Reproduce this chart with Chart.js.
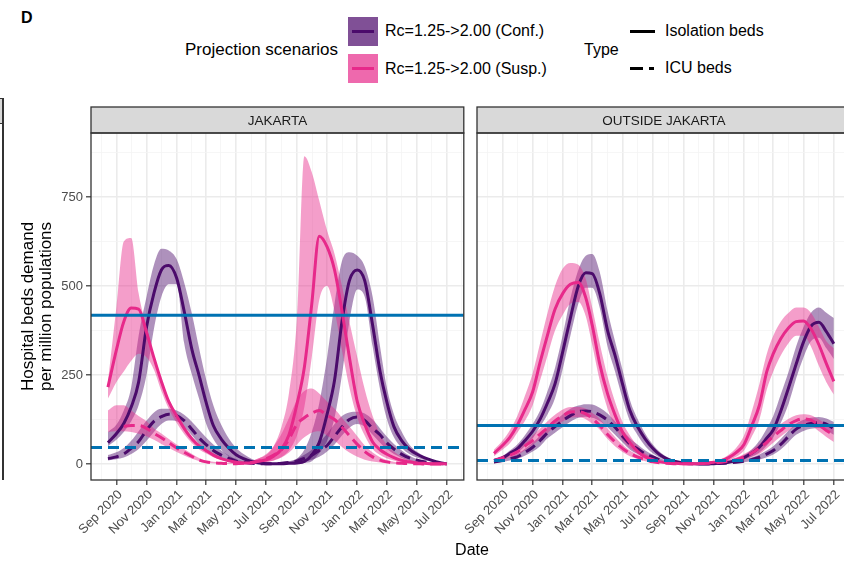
<!DOCTYPE html>
<html>
<head>
<meta charset="utf-8">
<script src="https://cdn.jsdelivr.net/npm/chart.js@4.4.1/dist/chart.umd.min.js"></script>
<style>
  html, body { margin: 0; padding: 0; background: #fff; overflow: hidden; }
  #fig { position: relative; width: 844px; height: 561px; overflow: hidden; font-family: "Liberation Sans", Arial, sans-serif; color: #000; }
  .abs { position: absolute; white-space: nowrap; line-height: 18px; }
  canvas { position: absolute; }
</style>
</head>
<body>
<div id="fig">
  <div class="abs" style="left:21px;top:9px;font-size:16px;font-weight:bold;">D</div>

  <!-- legend: scenarios -->
  <div class="abs" style="left:185px;top:41px;font-size:17px;">Projection scenarios</div>
  <div class="abs" style="left:348px;top:17px;width:30px;height:29px;background:rgb(128,80,150);">
    <div style="position:absolute;left:4px;right:4px;top:13px;height:3px;background:#4b0b6b;"></div>
  </div>
  <div class="abs" style="left:348px;top:54px;width:30px;height:29px;background:rgb(238,105,173);">
    <div style="position:absolute;left:4px;right:4px;top:13px;height:3px;background:#e7298a;"></div>
  </div>
  <div class="abs" style="left:385px;top:22px;font-size:16px;">Rc=1.25-&gt;2.00 (Conf.)</div>
  <div class="abs" style="left:385px;top:60px;font-size:16px;">Rc=1.25-&gt;2.00 (Susp.)</div>

  <!-- legend: bed type -->
  <div class="abs" style="left:584px;top:41px;font-size:16px;">Type</div>
  <div class="abs" style="left:630px;top:30px;width:25px;height:3px;background:#000;"></div>
  <div class="abs" style="left:630px;top:67px;width:13px;height:3px;background:#000;"></div>
  <div class="abs" style="left:649px;top:67px;width:5px;height:3px;background:#000;"></div>
  <div class="abs" style="left:665px;top:22px;font-size:16px;">Isolation beds</div>
  <div class="abs" style="left:665px;top:59px;font-size:16px;">ICU beds</div>

  <!-- edge of the neighbouring panel -->
  <div class="abs" style="left:0;top:98px;width:2px;height:24px;background:#d9d9d9;border-top:1px solid #333;border-bottom:1px solid #333;"></div>
  <div class="abs" style="left:2px;top:98px;width:2px;height:382px;background:#333;"></div>

  <canvas id="jkt" width="475" height="461" style="left:0;top:100px;"></canvas>
  <canvas id="out" width="442" height="461" style="left:420px;top:100px;"></canvas>

  <div class="abs" style="left:472px;top:541px;font-size:16px;transform:translateX(-50%);">Date</div>
</div>

<script>
// semi-monthly grid shared by every series
const dates = ['2020-08-15','2020-09-01','2020-09-16','2020-10-01','2020-10-16','2020-11-01','2020-11-16','2020-12-01','2020-12-16',
  '2021-01-01','2021-01-16','2021-02-01','2021-02-16','2021-03-01','2021-03-16','2021-04-01','2021-04-16','2021-05-01','2021-05-16',
  '2021-06-01','2021-06-16','2021-07-01','2021-07-16','2021-08-01','2021-08-16','2021-09-01','2021-09-16','2021-10-01','2021-10-16',
  '2021-11-01','2021-11-16','2021-12-01','2021-12-16','2022-01-01','2022-01-16','2022-02-01','2022-02-16','2022-03-01','2022-03-16',
  '2022-04-01','2022-04-16','2022-05-01','2022-05-16','2022-06-01','2022-06-16','2022-07-01'];

const tickDates = ['2020-09-01','2020-11-01','2021-01-01','2021-03-01','2021-05-01','2021-07-01',
  '2021-09-01','2021-11-01','2022-01-01','2022-03-01','2022-05-01','2022-07-01'];
const tickLabels = ['Sep 2020','Nov 2020','Jan 2021','Mar 2021','May 2021','Jul 2021',
  'Sep 2021','Nov 2021','Jan 2022','Mar 2022','May 2022','Jul 2022'];
const yTicks = [0, 250, 500, 750];

// JAKARTA
const jktConfIso   = [60,85,114,160,230,385,480,545,558,522,430,320,245,175,108,70,45,26,15,7,3,1,1,1,2,3,7,25,60,140,235,400,515,545,515,390,260,178,105,65,42,28,18,10,4,0];
const jktConfIsoHi = [90,110,150,215,360,470,560,605,600,575,510,420,320,240,165,110,72,45,28,15,8,4,2,3,5,15,40,90,170,300,450,570,595,585,555,470,330,220,140,90,55,35,22,12,6,2];
const jktConfIsoLo = [50,68,90,120,165,250,380,470,505,505,340,250,180,115,70,40,22,12,6,3,1,0,0,0,1,1,3,8,30,65,130,250,400,490,470,330,210,130,75,45,28,18,11,6,2,0];
const jktConfIcu   = [15,20,28,44,63,95,120,133,140,136,122,97,72,55,38,25,16,8,4,2,1,1,1,2,4,8,16,25,38,52,78,104,125,132,122,100,82,60,42,27,17,11,6,3,1,0];
const jktConfIcuHi = [25,33,45,65,92,122,145,155,155,150,138,118,95,75,55,38,24,14,7,4,2,1,2,4,8,15,26,40,60,85,112,135,145,147,142,125,100,78,56,38,24,14,8,4,2,1];
const jktConfIcuLo = [10,13,18,28,42,65,90,112,122,120,104,80,55,40,26,15,8,4,2,1,0,0,0,1,1,3,7,12,20,35,55,80,102,112,105,82,60,43,28,17,9,5,3,1,0,0];
const jktSuspIso   = [216,320,400,438,435,370,298,232,175,135,100,70,50,38,25,15,9,5,3,3,8,12,22,42,82,168,272,450,640,610,545,430,300,175,112,62,40,28,18,10,6,3,2,1,1,0];
const jktSuspIsoHi = [232,440,625,635,480,385,305,240,182,142,106,76,55,42,28,18,11,7,5,8,16,25,50,105,200,410,865,820,740,655,590,500,400,300,210,135,85,55,35,20,12,7,4,2,2,1];
const jktSuspIsoLo = [184,230,260,290,310,300,265,205,155,115,84,58,40,30,19,11,6,3,2,1,3,5,10,20,38,80,160,300,460,500,430,320,215,130,80,42,25,16,10,5,3,1,1,0,0,0];
const jktSuspIcu   = [null,null,106,108,108,100,86,74,60,45,33,21,11,6,3,2,1,1,2,4,8,15,25,40,70,112,130,143,150,137,125,103,80,55,35,20,11,6,3,2,1,1,0,0,0,0];
const jktSuspIcuHi = [150,165,165,150,135,120,100,86,70,55,42,28,16,10,6,3,2,2,4,8,16,28,50,85,130,180,205,212,198,175,155,130,105,78,52,32,19,11,6,3,2,1,1,0,0,0];
const jktSuspIcuLo = [90,92,92,90,85,78,68,56,45,34,24,15,8,4,2,1,0,0,1,2,3,6,10,18,32,55,75,88,92,80,65,48,32,20,12,7,4,2,1,0,0,0,0,0,0,0];

// OUTSIDE JAKARTA
const outConfIso   = [10,17,30,43,65,92,126,172,225,318,410,500,537,535,480,375,305,225,150,103,70,44,25,13,7,3,1,0,0,1,2,5,10,18,30,47,73,96,148,215,280,343,387,398,372,338];
const outConfIsoHi = [14,22,38,55,80,112,150,205,270,365,465,545,585,590,540,430,345,265,180,125,85,55,33,18,10,5,2,1,1,2,3,7,14,25,40,65,100,135,195,260,330,385,425,440,425,410];
const outConfIsoLo = [6,12,22,32,50,72,105,140,185,270,360,450,495,495,440,330,260,185,120,80,50,30,17,9,4,2,0,0,0,0,1,3,6,11,20,32,52,75,115,170,240,300,345,355,325,295];
const outConfIcu   = [5,10,15,20,32,47,66,88,105,122,136,147,149,147,138,123,103,78,56,42,28,20,11,6,3,2,1,1,1,1,2,3,5,8,12,19,28,38,55,78,98,108,114,117,112,99];
const outConfIcuHi = [8,14,20,28,42,60,80,104,122,140,155,164,168,167,158,142,120,96,72,54,38,26,16,9,5,3,2,2,2,2,3,5,8,12,18,27,38,50,70,94,113,124,130,132,128,118];
const outConfIcuLo = [3,6,10,14,23,35,50,72,88,104,119,130,133,130,121,103,82,61,40,28,19,11,6,3,1,1,0,0,0,0,1,2,3,5,8,12,19,27,41,62,82,93,99,101,95,82];
const outSuspIso   = [30,52,75,109,152,203,286,363,435,480,505,510,467,390,282,197,138,90,60,35,20,12,6,3,2,1,1,1,3,5,9,18,32,55,105,165,260,310,352,383,400,402,380,335,282,232];
const outSuspIsoHi = [40,65,95,135,190,255,340,425,500,550,565,560,520,440,340,245,175,118,80,50,30,18,10,5,3,2,2,2,5,8,14,26,45,80,145,225,310,360,400,425,440,440,425,385,345,325];
const outSuspIsoLo = [22,40,58,88,120,165,235,305,375,420,450,455,415,335,235,155,105,68,45,27,15,8,4,2,1,0,0,0,1,3,5,10,20,38,75,125,210,260,305,340,360,360,330,275,230,195];
const outSuspIcu   = [10,17,25,34,50,66,84,102,121,136,146,147,141,128,108,83,62,44,30,19,12,6,3,2,1,1,1,1,2,3,5,8,12,20,30,45,61,77,94,111,122,127,123,110,94,82];
const outSuspIcuHi = [15,23,32,42,58,80,100,120,138,153,160,160,155,143,127,100,76,55,38,26,16,9,5,3,2,1,1,2,3,5,8,12,18,28,40,56,78,96,112,127,137,140,137,125,112,103];
const outSuspIcuLo = [6,11,18,25,38,53,70,87,105,120,130,131,126,113,97,70,50,34,22,14,8,4,2,1,0,0,0,0,1,2,3,5,7,13,19,28,44,60,77,94,106,112,108,92,76,62];

// bed capacity per region: [Jakarta, outside Jakarta]
const isoCapacity = [418, 108];
const icuCapacity = [46, 10];

const purple = '#4b0b6b', pink = '#e7298a', blue = '#0072b2';
const purpleFill = 'rgba(75,11,107,0.45)', pinkFill = 'rgba(231,41,138,0.45)';
const FONT = '"Liberation Sans", Arial, sans-serif';

const t0 = Date.parse('2020-09-01');
const dayOf = s => (Date.parse(s) - t0) / 86400000;
const xs = dates.map(dayOf);
const span = xs[xs.length - 1] - xs[0];
const xMin = xs[0] - 0.05 * span, xMax = xs[xs.length - 1] + 0.05 * span;
const yMin = -45, yMax = 930;

// major ticks at the labelled months, minor ones half way between
const majorX = tickDates.map(dayOf);
const xTicks = [];
const firstMinor = majorX[0] - (majorX[1] - majorX[0]) / 2;
if (firstMinor >= xMin) xTicks.push({value: firstMinor, minor: true});
majorX.forEach((v, i) => {
  xTicks.push({value: v, minor: false, label: tickLabels[i]});
  const next = i < majorX.length - 1 ? (v + majorX[i + 1]) / 2 : v + (v - majorX[i - 1]) / 2;
  if (next <= xMax) xTicks.push({value: next, minor: true});
});
const yTickObjs = [];
yTicks.forEach((v, i) => {
  yTickObjs.push({value: v, minor: false});
  const step = i < yTicks.length - 1 ? yTicks[i + 1] - v : v - yTicks[i - 1];
  if (v + step / 2 <= yMax) yTickObjs.push({value: v + step / 2, minor: true});
});

function pts(vals) { return vals.map((v, i) => ({x: xs[i], y: v})); }

function curve(vals, color, dashed, order) {
  return {data: pts(vals), borderColor: color, borderWidth: 3, borderDash: dashed ? [11, 6] : [],
    pointRadius: 0, fill: false, cubicInterpolationMode: 'monotone', order: order};
}

function ribbon(hi, lo, color, order) {
  return [
    {data: pts(hi), borderColor: 'rgba(0,0,0,0)', borderWidth: 0, pointRadius: 0, backgroundColor: color,
      fill: '+1', cubicInterpolationMode: 'monotone', order: order},
    {data: pts(lo), borderColor: 'rgba(0,0,0,0)', borderWidth: 0, pointRadius: 0,
      fill: false, cubicInterpolationMode: 'monotone', order: order}
  ];
}

function capLine(v, dashed) {
  return {data: [{x: xMin, y: v}, {x: xMax, y: v}], borderColor: blue, borderWidth: 3,
    borderDash: dashed ? [11, 6] : [], pointRadius: 0, fill: false, order: 0};
}

// grey strip with the facet name and the panel border
const facetFrame = {
  id: 'facetFrame',
  afterDraw(chart, args, opts) {
    const {ctx, chartArea: a} = chart;
    ctx.save();
    ctx.fillStyle = '#d9d9d9';
    ctx.fillRect(a.left, a.top - 26, a.right - a.left, 26);
    ctx.strokeStyle = '#333';
    ctx.lineWidth = 1.3;
    ctx.strokeRect(a.left, a.top - 26, a.right - a.left, 26);
    ctx.strokeRect(a.left, a.top, a.right - a.left, a.bottom - a.top);
    ctx.fillStyle = '#1a1a1a';
    ctx.font = '13.5px ' + FONT;
    ctx.textAlign = 'center';
    ctx.textBaseline = 'middle';
    ctx.fillText(opts.title, (a.left + a.right) / 2, a.top - 12);
    ctx.restore();
  }
};

function gridColor(c) { return c.tick && c.tick.minor ? '#f4f4f4' : '#ebebeb'; }
function gridWidth(c) { return c.tick && c.tick.minor ? 0.8 : 1.6; }
function tickColor(c) { return c.tick && c.tick.minor ? 'rgba(0,0,0,0)' : '#333'; }

function makePanel(id, title, s, region, showY, padding) {
  const datasets = [
    capLine(isoCapacity[region], false),
    capLine(icuCapacity[region], true),
    curve(s.suspIso, pink, false, 1),
    curve(s.suspIcu, pink, true, 1),
    curve(s.confIso, purple, false, 2),
    curve(s.confIcu, purple, true, 2),
    ...ribbon(s.suspIsoHi, s.suspIsoLo, pinkFill, 3),
    ...ribbon(s.suspIcuHi, s.suspIcuLo, pinkFill, 3),
    ...ribbon(s.confIsoHi, s.confIsoLo, purpleFill, 4),
    ...ribbon(s.confIcuHi, s.confIcuLo, purpleFill, 4)
  ];
  return new Chart(document.getElementById(id), {
    type: 'line',
    data: {datasets: datasets},
    options: {
      responsive: false,
      animation: false,
      devicePixelRatio: 1,
      layout: {padding: padding},
      plugins: {legend: {display: false}, tooltip: {enabled: false}, facetFrame: {title: title}},
      scales: {
        x: {
          type: 'linear', min: xMin, max: xMax,
          afterBuildTicks: sc => { sc.ticks = xTicks.map(t => Object.assign({}, t)); },
          afterFit: sc => { sc.height = 81; },
          border: {display: false},
          grid: {color: gridColor, lineWidth: gridWidth, tickColor: tickColor, tickLength: 5, tickWidth: 1.2},
          ticks: {
            autoSkip: false, maxRotation: 45, minRotation: 45, padding: 2, labelOffset: 4,
            color: '#4d4d4d', font: {family: FONT, size: 13},
            callback: (v, i, ticks) => ticks[i].label || ''
          }
        },
        y: {
          type: 'linear', min: yMin, max: yMax,
          afterBuildTicks: sc => { sc.ticks = yTickObjs.map(t => Object.assign({}, t)); },
          afterFit: sc => { sc.width = showY ? 91 : 0; },
          border: {display: false},
          grid: {color: gridColor, lineWidth: gridWidth, tickColor: tickColor, tickLength: 5, tickWidth: 1.2, drawTicks: showY},
          ticks: {
            display: showY, padding: 3, color: '#4d4d4d', font: {family: FONT, size: 13},
            callback: (v, i, ticks) => ticks[i].minor ? '' : String(v)
          },
          title: {
            display: showY, text: ['Hospital beds demand', 'per million populations'],
            color: '#000', font: {family: FONT, size: 17, lineHeight: 1.06}, padding: {top: 19, bottom: 0}
          }
        }
      }
    },
    plugins: [facetFrame]
  });
}

makePanel('jkt', 'JAKARTA', {
  confIso: jktConfIso, confIsoHi: jktConfIsoHi, confIsoLo: jktConfIsoLo,
  confIcu: jktConfIcu, confIcuHi: jktConfIcuHi, confIcuLo: jktConfIcuLo,
  suspIso: jktSuspIso, suspIsoHi: jktSuspIsoHi, suspIsoLo: jktSuspIsoLo,
  suspIcu: jktSuspIcu, suspIcuHi: jktSuspIcuHi, suspIcuLo: jktSuspIcuLo
}, 0, true, {left: 0, top: 33, right: 6, bottom: 0});

makePanel('out', 'OUTSIDE JAKARTA', {
  confIso: outConfIso, confIsoHi: outConfIsoHi, confIsoLo: outConfIsoLo,
  confIcu: outConfIcu, confIcuHi: outConfIcuHi, confIcuLo: outConfIcuLo,
  suspIso: outSuspIso, suspIsoHi: outSuspIsoHi, suspIsoLo: outSuspIsoLo,
  suspIcu: outSuspIcu, suspIcuHi: outSuspIcuHi, suspIcuLo: outSuspIcuLo
}, 1, false, {left: 57, top: 33, right: 7, bottom: 0});
</script>
</body>
</html>
